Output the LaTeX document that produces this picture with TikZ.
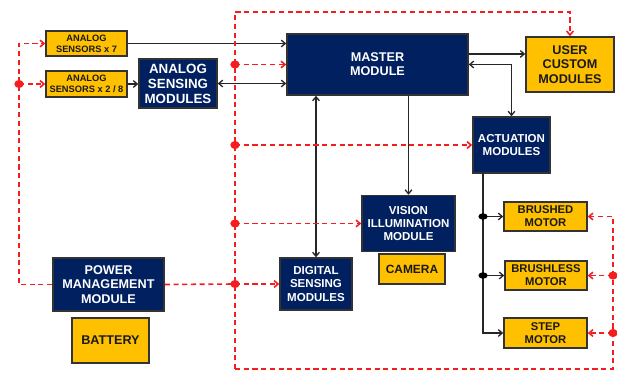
\documentclass[tikz,border=0pt]{standalone}
\usepackage{fontspec}
\setmainfont{Liberation Sans}
\usetikzlibrary{arrows.meta}
\definecolor{navy}{RGB}{0,32,96}
\definecolor{gold}{RGB}{255,192,0}
\definecolor{wirered}{RGB}{245,30,30}
\newcommand{\fs}[2]{\bfseries\fontsize{#1}{#2}\selectfont}
\begin{document}
\begin{tikzpicture}[x=0.025cm, y=-0.025cm, >={Straight Barb[length=2.8pt,width=4.8pt]}]
        \tikzstyle{blk}=[rectangle, draw=black!80, line width=1.1pt, fill=navy, text=white, align=center, inner sep=0pt]
        \tikzstyle{part}=[rectangle, draw=black!80, line width=1.1pt, fill=gold, text=black!90, align=center, inner sep=0pt]
        \tikzstyle{wire}=[draw=black!85, line width=0.95pt]
        \tikzstyle{pwr}=[draw=wirered, line width=1.15pt, dash pattern=on 3.6pt off 2.6pt]

        \useasboundingbox (0,0) rectangle (617,371);

        % sensors, left
        \node[part, minimum width=2.025cm, minimum height=0.625cm, font=\fs{6.6}{7.8}] (ana7)  at (86.5,43.5) {ANALOG\\SENSORS x 7};
        \node[part, minimum width=2.025cm, minimum height=0.65cm,  font=\fs{6.6}{7.8}] (ana28) at (86.5,84)   {ANALOG\\SENSORS x 2 / 8};
        \node[blk, minimum width=1.95cm, minimum height=1.225cm, font=\fs{9.5}{10.6}] (anasense) at (178,83.5) {ANALOG\\SENSING\\MODULES};

        % modules
        \node[blk, minimum width=4.525cm, minimum height=1.525cm, font=\fs{9}{10}]    (master)    at (377.5,64.5) {MASTER\\MODULE};
        \node[part, minimum width=2.2cm, minimum height=1.375cm, font=\fs{9}{10.3}]   (user)      at (570,64.5)   {USER\\CUSTOM\\MODULES};
        \node[blk, minimum width=1.925cm, minimum height=1.4cm, font=\fs{8.2}{9.3}]   (actuation) at (511.5,145)  {ACTUATION\\MODULES};
        \node[blk, minimum width=2.325cm, minimum height=1.4cm, font=\fs{8.2}{9.4}]   (vision)    at (408.5,223.5) {VISION\\ILLUMINATION\\MODULE};
        \node[part, minimum width=1.65cm, minimum height=0.75cm, font=\fs{8.5}{10}]   (camera)    at (412,269)    {CAMERA};
        \node[blk, minimum width=1.8cm, minimum height=1.3cm, font=\fs{8.2}{9.7}]     (digital)   at (316,284)    {DIGITAL\\SENSING\\MODULES};

        % motors
        \node[part, minimum width=2.075cm, minimum height=0.725cm, font=\fs{8}{9.2}] (brushed)   at (545.5,216.5) {BRUSHED\\MOTOR};
        \node[part, minimum width=2.05cm,  minimum height=0.725cm, font=\fs{8}{9.2}] (brushless) at (546,275.5)   {BRUSHLESS\\MOTOR};
        \node[part, minimum width=2.075cm, minimum height=0.75cm,  font=\fs{8}{9.2}] (step)      at (545.5,333)   {STEP\\MOTOR};

        % power
        \node[blk, minimum width=2.775cm, minimum height=1.325cm, font=\fs{9}{10.3}] (power)   at (108.5,284.5) {POWER\\MANAGEMENT\\MODULE};
        \node[part, minimum width=1.925cm, minimum height=1.125cm, font=\fs{9}{10}]  (battery) at (110.5,340.5) {BATTERY};

        % data links
        \draw[wire,->]  (ana7.east) -- (ana7.east -| master.west);
        \draw[wire,->]  (ana28.east) -- (ana28.east -| anasense.west);
        \draw[wire,<->] (anasense.east) -- (anasense.east -| master.west);
        \draw[wire,->]  ([yshift=7.5pt]master.east) -- ([yshift=7.5pt]user.west);
        \draw[wire,<->] (master.east) -| (actuation.north);
        \draw[wire,->]  (master.south -| vision.north) -- (vision.north);
        \draw[wire,<->] (digital.north) -- (digital.north |- master.south);

        \coordinate (atop) at (483,173);
        \coordinate (j1) at (atop |- brushed.west);
        \coordinate (j2) at (atop |- brushless.west);
        \draw[wire,->] (atop) |- (step.west);
        \draw[wire,->] (j1) -- (brushed.west);
        \draw[wire,->] (j2) -- (brushless.west);

        % power lines
        \coordinate (btop) at (235,12);
        \coordinate (bbot) at (235,369);
        \coordinate (rbot) at (613,369);
        \coordinate (lbus) at (19,43.5);
        \coordinate (t1) at (btop |- master.west);
        \coordinate (t2) at (btop |- actuation.west);
        \coordinate (t3) at (btop |- vision.west);
        \coordinate (t4) at (btop |- digital.west);
        \coordinate (r1) at (rbot |- brushless.east);
        \coordinate (r2) at (rbot |- step.east);
        \coordinate (l1) at (lbus |- ana28.west);

        \draw[pwr,->] (bbot) -- (btop) -| (user.north);
        \draw[pwr,->] (bbot) -- (rbot) |- (brushed.east);
        \draw[pwr,->] (r1) -- (brushless.east);
        \draw[pwr,->] (r2) -- (step.east);
        \draw[pwr,->] (t1) -- (master.west);
        \draw[pwr,->] (t2) -- (actuation.west);
        \draw[pwr,->] (t3) -- (vision.west);
        \draw[pwr] (power.east) -- (t4);
        \draw[pwr,->] (t4) -- (digital.west);
        \draw[pwr,->] (power.west) -| (lbus) -- (ana7.west);
        \draw[pwr,->] (l1) -- (ana28.west);

        % junctions
        \foreach \p in {t1,t2,t3,t4,r1,r2,l1}
            \fill[wirered] (\p) ellipse [x radius=3.3pt, y radius=2.9pt];
        \foreach \p in {j1,j2}
            \fill[black] (\p) ellipse [x radius=3.3pt, y radius=2.3pt];
\end{tikzpicture}
\end{document}
